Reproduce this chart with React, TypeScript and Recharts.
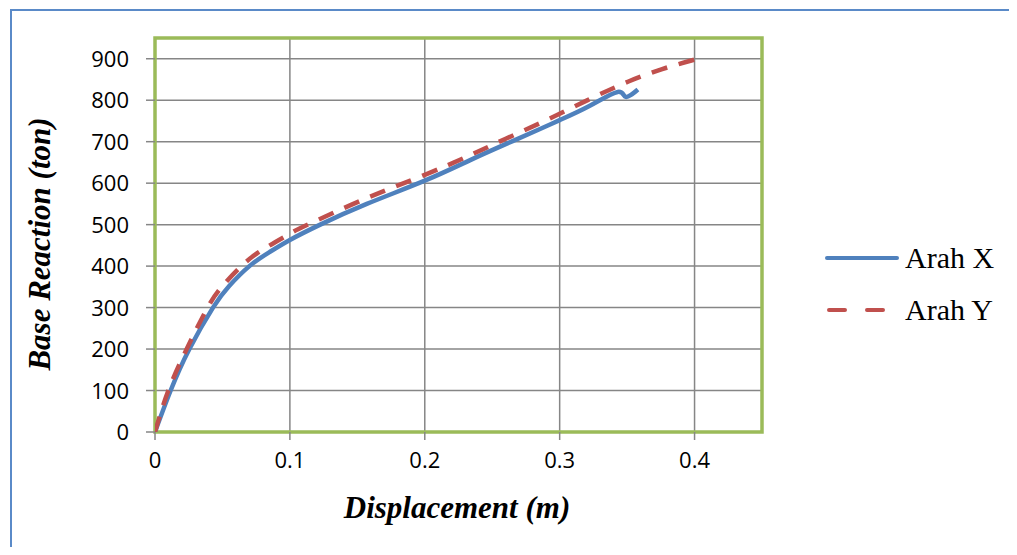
import React from "react";
import { LineChart, Line, XAxis, YAxis, CartesianGrid, ReferenceArea } from "recharts";

const arahXDisp = [0, 0.0116, 0.0255, 0.043, 0.055, 0.07, 0.085, 0.1, 0.1225, 0.157, 0.2, 0.2333, 0.26, 0.285, 0.3, 0.322, 0.343, 0.349, 0.358];
const arahXForce = [0, 100, 200, 300, 352, 400, 434, 463, 500, 550, 606, 655, 694, 730, 752, 786, 820, 808, 826];

const arahYDisp = [0, 0.0099, 0.0235, 0.039, 0.05, 0.064, 0.08, 0.1, 0.1126, 0.157, 0.2, 0.2333, 0.26, 0.285, 0.303, 0.327, 0.351, 0.376, 0.399, 0.4037];
const arahYForce = [0, 100, 200, 300, 352, 400, 440, 478, 499, 564, 620, 667, 707, 744, 772, 810, 845, 875, 897, 901];

const xTicks = [0, 0.1, 0.2, 0.3, 0.4];
const yTicks = [0, 100, 200, 300, 400, 500, 600, 700, 800, 900];

const seriesNames = ["Arah X", "Arah Y"];
const xTitle = "Displacement (m)";
const yTitle = "Base Reaction (ton)";

const dataX = arahXDisp.map((d, i) => ({ d, v: arahXForce[i] }));
const dataY = arahYDisp.map((d, i) => ({ d, v: arahYForce[i] }));

const BLUE = "#4F81BD";
const RED = "#C0504D";
const TICK_FONT = "'Open Sans', 'Liberation Sans', Arial, sans-serif";

const XTick = (props: any) => {
  const { x, y, payload } = props;
  return (
    <text x={x} y={y + 28} textAnchor="middle" fontFamily={TICK_FONT} fontSize={22} fill="#000">
      {payload.value}
    </text>
  );
};

const YTick = (props: any) => {
  const { x, y, payload } = props;
  return (
    <text x={x} y={y + 8} textAnchor="end" fontFamily={TICK_FONT} fontSize={22} fill="#000">
      {payload.value}
    </text>
  );
};

export default function App() {
  const serif = "'Liberation Serif', 'Times New Roman', serif";
  return (
    <div style={{ position: "relative", width: 1017, height: 555, margin: -8, background: "#fff", overflow: "hidden" }}>
      <div style={{ position: "absolute", left: 10, top: 9, width: 1100, height: 700, border: "2px solid #5A8AC8", boxSizing: "border-box" }} />
      <LineChart width={1017} height={555} margin={{ top: 38, right: 255, bottom: 63, left: 0 }}>
        <CartesianGrid stroke="#868686" strokeWidth={1.5} fill="none" />
        <XAxis
          type="number"
          dataKey="d"
          domain={[0, 0.45]}
          ticks={xTicks}
          interval={0}
          height={60}
          axisLine={false}
          tickLine={{ stroke: "#868686", strokeWidth: 1.5 }}
          tickSize={8}
          tickMargin={0}
          tick={<XTick />}
          allowDataOverflow
        />
        <YAxis
          type="number"
          dataKey="v"
          domain={[0, 950]}
          ticks={yTicks}
          interval={0}
          width={155}
          axisLine={false}
          tickLine={{ stroke: "#868686", strokeWidth: 1.5 }}
          tickSize={9}
          tickMargin={17}
          tick={<YTick />}
          allowDataOverflow
        />
        <ReferenceArea x1={0} x2={0.45} y1={0} y2={950} fill="none" stroke="#9BBB59" strokeWidth={3.5} ifOverflow="visible" />
        <Line data={dataX} dataKey="v" name={seriesNames[0]} type="natural" stroke={BLUE} strokeWidth={4.5} dot={false} isAnimationActive={false} />
        <Line data={dataY} dataKey="v" name={seriesNames[1]} type="natural" stroke={RED} strokeWidth={4.5} strokeDasharray="16 12" dot={false} isAnimationActive={false} />
      </LineChart>
      <div style={{ position: "absolute", left: 823, top: 232, fontFamily: serif, fontSize: 30, color: "#000" }}>
        <div style={{ display: "flex", alignItems: "center", height: 52 }}>
          <svg width={82} height={10}>
            <line x1={4} y1={5} x2={74} y2={5} stroke={BLUE} strokeWidth={4} strokeLinecap="round" />
          </svg>
          <span>{seriesNames[0]}</span>
        </div>
        <div style={{ display: "flex", alignItems: "center", height: 52 }}>
          <svg width={82} height={10}>
            <line x1={6} y1={5} x2={76} y2={5} stroke={RED} strokeWidth={4} strokeLinecap="round" strokeDasharray="16 22" />
          </svg>
          <span>{seriesNames[1]}</span>
        </div>
      </div>
      <div
        style={{
          position: "absolute",
          left: 457,
          top: 508,
          transform: "translate(-50%, -50%)",
          whiteSpace: "nowrap",
          fontFamily: serif,
          fontWeight: "bold",
          fontStyle: "italic",
          fontSize: 31,
        }}
      >
        {xTitle}
      </div>
      <div
        style={{
          position: "absolute",
          left: 40,
          top: 244,
          transform: "translate(-50%, -50%) rotate(-90deg)",
          whiteSpace: "nowrap",
          fontFamily: serif,
          fontWeight: "bold",
          fontStyle: "italic",
          fontSize: 31,
        }}
      >
        {yTitle}
      </div>
    </div>
  );
}
